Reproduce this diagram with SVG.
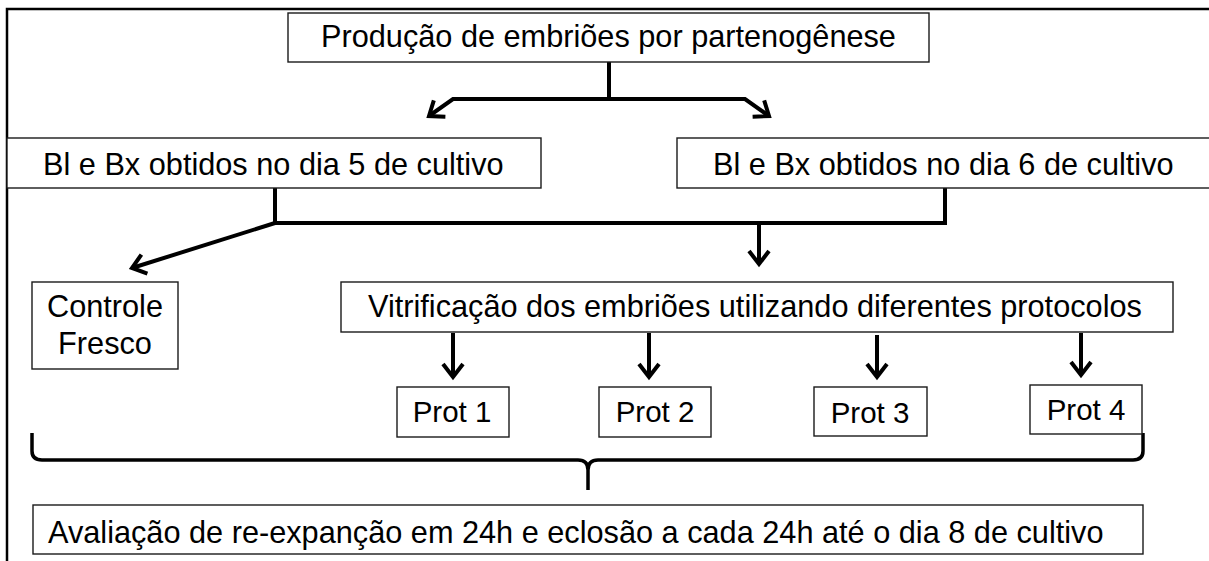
<svg xmlns="http://www.w3.org/2000/svg" width="1209" height="561" viewBox="0 0 1209 561">
<style>
.box{fill:#fff;stroke:#1a1a1a;stroke-width:1.4}
.t{font-family:"Liberation Sans",Arial,sans-serif;font-size:30.7px;fill:#000}
.p{font-family:"Liberation Sans",Arial,sans-serif;font-size:29.5px;fill:#000;text-anchor:middle}
.c{fill:none;stroke:#000;stroke-width:4}
.frame{fill:none;stroke:#000;stroke-width:2.5}
</style>
<defs>
<marker id="ah" markerUnits="userSpaceOnUse" viewBox="-16 -12 20 24" refX="0" refY="0" markerWidth="20" markerHeight="24" orient="auto" overflow="visible">
<path d="M-13,-10 L0,0 L-13,10" fill="none" stroke="#000" stroke-width="4"/>
</marker>
</defs>
<rect width="1209" height="561" fill="#fff"/>
<g id="frame">
<path class="frame" d="M7,561 V9 H1209"/>
</g>
<g id="connectors">
<path class="c" d="M609,62 V99 H453 L429,116" marker-end="url(#ah)"/>
<path class="c" d="M609,99 H745 L769,116" marker-end="url(#ah)"/>
<path class="c" d="M275,188 V223 H945 V188"/>
<path class="c" d="M275,223 L132,268" marker-end="url(#ah)"/>
<path class="c" d="M759,223 V264" marker-end="url(#ah)"/>
<path class="c" d="M453,333 V377" marker-end="url(#ah)"/>
<path class="c" d="M649,333 V377" marker-end="url(#ah)"/>
<path class="c" d="M877,335 V377" marker-end="url(#ah)"/>
<path class="c" d="M1081,333 V375" marker-end="url(#ah)"/>
<path id="brace" fill="none" stroke="#000" stroke-width="3.5" d="M32,433 V451 Q32,460 42,460 H578 Q588,460 588,470 V490 V470 Q588,460 598,460 H1133 Q1143,460 1143,451 V433"/>
</g>
<g id="n-producao">
<rect class="box" x="288" y="13" width="641" height="49"/>
<text class="t" x="321" y="47">Produção de embriões por partenogênese</text>
</g>
<g id="n-dia5">
<rect class="box" x="7" y="138" width="534" height="50"/>
<text class="t" x="43" y="175">Bl e Bx obtidos no dia 5 de cultivo</text>
</g>
<g id="n-dia6">
<rect class="box" x="677" y="138" width="540" height="50"/>
<text class="t" x="713" y="175">Bl e Bx obtidos no dia 6 de cultivo</text>
</g>
<g id="n-controle">
<rect class="box" x="32" y="282" width="146" height="87"/>
<text class="t" x="105" y="317" text-anchor="middle">Controle</text>
<text class="t" x="105" y="354" text-anchor="middle">Fresco</text>
</g>
<g id="n-vitrificacao">
<rect class="box" x="341" y="282" width="832" height="50"/>
<text class="t" x="368" y="317">Vitrificação dos embriões utilizando diferentes protocolos</text>
</g>
<g id="n-prot1">
<rect class="box" x="397" y="387" width="112" height="50"/>
<text class="p" x="452" y="422">Prot 1</text>
</g>
<g id="n-prot2">
<rect class="box" x="599" y="387" width="112" height="50"/>
<text class="p" x="655" y="422">Prot 2</text>
</g>
<g id="n-prot3">
<rect class="box" x="814" y="387" width="113" height="49"/>
<text class="p" x="870" y="423">Prot 3</text>
</g>
<g id="n-prot4">
<rect class="box" x="1030" y="385" width="112" height="49"/>
<text class="p" x="1086" y="420">Prot 4</text>
</g>
<g id="n-avaliacao">
<rect class="box" x="33" y="505" width="1110" height="49"/>
<text class="t" x="48" y="543">Avaliação de re-expanção em 24h e eclosão a cada 24h até o dia 8 de cultivo</text>
</g>
</svg>
